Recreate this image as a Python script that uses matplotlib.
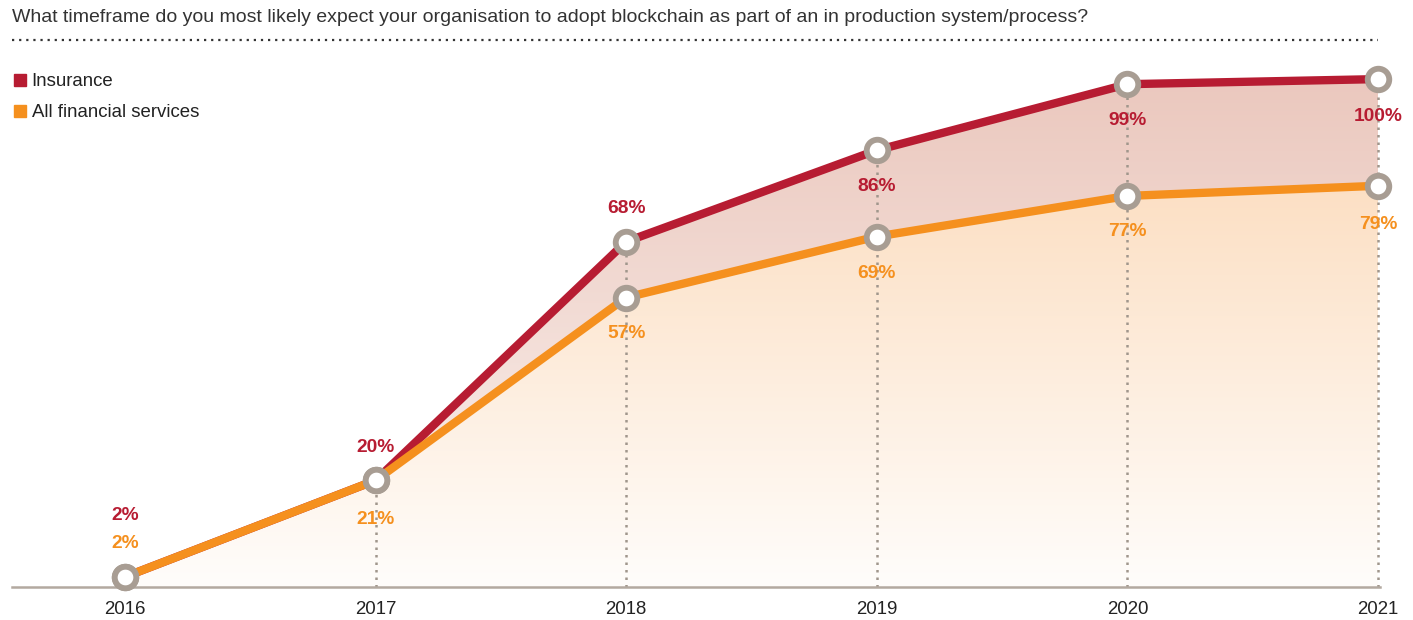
import numpy as np
import matplotlib
matplotlib.use("Agg")
import matplotlib.pyplot as plt
from matplotlib.lines import Line2D
from matplotlib.colors import LinearSegmentedColormap

plt.rcParams['font.family'] = ['Liberation Sans', 'DejaVu Sans']

years = [2016, 2017, 2018, 2019, 2020, 2021]
# plotted positions (2017 points coincide)
insurance = [2, 21, 68, 86, 99, 100]
all_fs = [2, 21, 57, 69, 77, 79]
ins_labels = ["2%", "20%", "68%", "86%", "99%", "100%"]
fs_labels = ["2%", "21%", "57%", "69%", "77%", "79%"]
title = "What timeframe do you most likely expect your organisation to adopt blockchain as part of an in production system/process?"

RED = "#b71c32"
ORANGE = "#f5901e"
MARK = "#a89d93"
AXIS = "#b3a9a0"

W, H = 1413, 620
fig = plt.figure(figsize=(W / 100, H / 100), dpi=100)
ax = fig.add_axes([12 / W, 33 / H, 1368 / W, 547 / H])
XL = (2015.549, 2021.008)
YL = (0, 107.7)

x = np.array(years, dtype=float)
yi = np.array(insurance, dtype=float)
yf = np.array(all_fs, dtype=float)

# gradient fills
grad = np.linspace(0, 1, 256).reshape(-1, 1)
cmap_red = LinearSegmentedColormap.from_list("r", ["#fbf3f0", "#ebc8be"])
cmap_or = LinearSegmentedColormap.from_list("o", ["#fffdfb", "#fcdfc3"])

poly_r = ax.fill_between(x, yf, yi, facecolor="none", edgecolor="none")
im_r = ax.imshow(grad, extent=[x[0], x[-1], 0, 100], origin="lower", aspect="auto",
                 cmap=cmap_red, zorder=1)
im_r.set_clip_path(poly_r.get_paths()[0], transform=ax.transData)

poly_o = ax.fill_between(x, 0, yf, facecolor="none", edgecolor="none")
im_o = ax.imshow(grad, extent=[x[0], x[-1], 0, 80], origin="lower", aspect="auto",
                 cmap=cmap_or, zorder=1.1)
im_o.set_clip_path(poly_o.get_paths()[0], transform=ax.transData)
ax.set_xlim(*XL)
ax.set_ylim(*YL)

# dotted verticals
for xv, yv in zip(x[1:], yi[1:]):
    ax.plot([xv, xv], [0, yv], color="#a0968c", lw=1.8, ls=(0, (1, 2.0)), zorder=2,
            clip_on=False)

ax.plot(x, yi, color=RED, lw=6, zorder=3, solid_capstyle="butt", clip_on=False)
ax.plot(x, yf, color=ORANGE, lw=6, zorder=4, solid_capstyle="butt", clip_on=False)
for ys in (yi, yf):
    ax.plot(x, ys, ls="none", marker="o", ms=15.5, mfc="white", mec=MARK, mew=4.2,
            zorder=6, clip_on=False)

# value labels (offsets in pixels)
ins_off = [61, 33, 33, -36, -36, -37]
fs_off = [33, -39, -36, -37, -36, -39]
for xv, yv, lab, off in zip(x, yi, ins_labels, ins_off):
    ax.annotate(lab, (xv, yv), xytext=(0, off), textcoords="offset pixels",
                ha="center", va="center", color=RED, fontsize=13.8, fontweight="bold", zorder=7)
for xv, yv, lab, off in zip(x, yf, fs_labels, fs_off):
    ax.annotate(lab, (xv, yv), xytext=(0, off), textcoords="offset pixels",
                ha="center", va="center", color=ORANGE, fontsize=13.8, fontweight="bold", zorder=7)

# axes styling
for s in ("top", "right", "left"):
    ax.spines[s].set_visible(False)
ax.spines["bottom"].set_color(AXIS)
ax.spines["bottom"].set_linewidth(1.8)
ax.set_yticks([])
ax.set_xticks(years)
ax.set_xticklabels([str(y) for y in years], fontsize=13.4, color="#222222")
ax.tick_params(axis="x", length=0, pad=10)
ax.patch.set_alpha(0)

# title and dotted rule
fig.text(12 / W, 1 - 17 / H, title, ha="left", va="center", fontsize=14, color="#333333")
fig.add_artist(Line2D([12 / W, 1378 / W], [1 - 40 / H, 1 - 40 / H], transform=fig.transFigure,
                      color="#333333", lw=1.6, ls=(0, (1, 2.2))))

handles = [Line2D([], [], ls="none", marker="s", ms=9, mfc=RED, mec=RED),
           Line2D([], [], ls="none", marker="s", ms=9, mfc=ORANGE, mec=ORANGE)]
fig.legend(handles, ["Insurance", "All financial services"], loc="upper left",
           bbox_to_anchor=(13 / W, 1 - 73 / H), frameon=False, fontsize=13.4,
           handlelength=0.7, handletextpad=0.3, labelspacing=0.75, borderaxespad=0,
           borderpad=0, labelcolor="#222222")

fig.savefig("out.png", dpi=100)
